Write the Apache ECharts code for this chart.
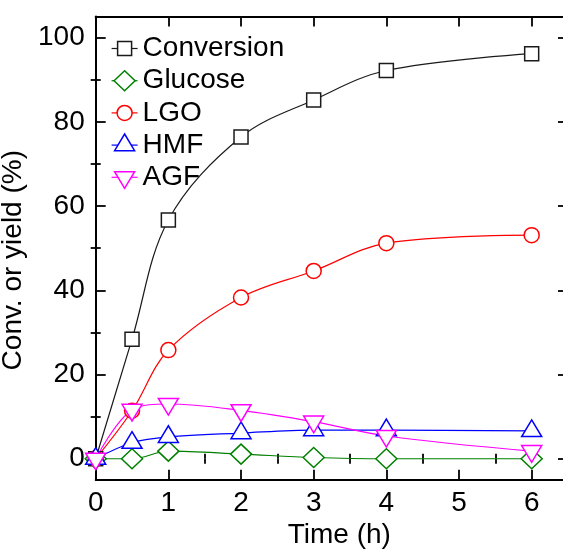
<!DOCTYPE html>
<html>
<head>
<meta charset="utf-8">
<script src="https://cdn.jsdelivr.net/npm/echarts@6/dist/echarts.min.js"></script>
<style>
html, body { margin: 0; padding: 0; overflow: hidden; background: #fff; }
#chart { width: 600px; height: 552px; }
</style>
</head>
<body>
<div id="chart"></div>
<script>
// ---- data ----
const timeH = [0, 0.5, 1, 2, 3, 4, 6];
const conversion = [0, 28.4, 56.7, 76.4, 85.2, 92.2, 96.2];
const glucose = [0, 0, 1.8, 1.1, 0.3, 0, 0];
const lgo = [0, 11.4, 25.8, 38.3, 44.6, 51.2, 53.1];
const hmf = [0, 3.8, 5.2, 6.1, 6.8, 6.8, 6.6];
const agf = [0, 11.6, 13.0, 11.5, 8.8, 5.4, 1.8];
const seriesNames = ['Conversion', 'Glucose', 'LGO', 'HMF', 'AGF'];
const xTicks = [0, 1, 2, 3, 4, 5, 6];
const xMinorTicks = [0.5, 1.5, 2.5, 3.5, 4.5, 5.5];
const yTicks = [0, 20, 40, 60, 80, 100];
const yMinorTicks = [10, 30, 50, 70, 90];

const FONT = 'Liberation Sans, Arial, sans-serif';
const colors = ['#1a1a1a', '#008000', '#ff0000', '#0000ff', '#ff00ff'];
// symbols drawn in a 24x24 box (corner moveTo points fix the box)
const symbols = [
  'path://M0 0M24 24M5 5L19 5L19 19L5 19Z',
  'path://M0 0M24 24M1.5 12L12 2L22.5 12L12 22Z',
  'path://M0 0M24 24M4.5 12A7.5 7.5 0 1 1 19.5 12A7.5 7.5 0 1 1 4.5 12Z',
  'path://M0 0M24 24M12 0.9L22 17.6L2 17.6Z',
  'path://M0 0M24 24M2 6.4L22 6.4L12 23.1Z'
];
const values = [conversion, glucose, lgo, hmf, agf];

function pairs(ys) { return timeH.map((x, i) => [x, ys[i]]); }

const X0 = 0, X1 = 6.5, Y0 = -5, Y1 = 105;
const lineCol = '#000';

function axisBase(extra) {
  return Object.assign({
    type: 'value',
    splitLine: { show: false },
    axisLine: { show: false },
    axisLabel: { show: false },
    axisTick: { show: false }
  }, extra);
}

const tickMajor = (vals) => ({ show: true, inside: true, length: 10, customValues: vals, lineStyle: { color: lineCol, width: 1.8 } });
const tickMinor = (vals) => ({ show: true, inside: true, length: 5, customValues: vals, lineStyle: { color: lineCol, width: 1.8 } });
const spine = { show: true, onZero: false, lineStyle: { color: lineCol, width: 2 } };

const option = {
  animation: false,
  backgroundColor: '#fff',
  grid: { left: 95.7, top: 16.6, right: 600 - 568, bottom: 72.2, containLabel: false, outerBoundsMode: 'none' },
  legend: {
    orient: 'vertical',
    left: 111, top: 34.5,
    padding: 0,
    itemWidth: 26, itemHeight: 30, itemGap: 4.2,
    textStyle: { fontSize: 28, color: '#000', fontFamily: FONT },
    itemStyle: { borderWidth: 1.5 },
    lineStyle: { width: 1.2 },
    data: seriesNames
  },
  xAxis: [
    axisBase({
      min: X0, max: X1, position: 'bottom',
      axisLine: spine,
      axisTick: tickMajor(xTicks),
      axisLabel: { show: true, customValues: xTicks, margin: 9, fontSize: 28, color: '#000', fontFamily: FONT },
      name: 'Time (h)', nameLocation: 'middle', nameGap: 36,
      nameTextStyle: { fontSize: 28, color: '#000', fontFamily: FONT, padding: [0, 0, 0, 15] }
    }),
    axisBase({ min: X0, max: X1, position: 'bottom', axisTick: tickMinor(xMinorTicks) }),
    axisBase({ min: X0, max: X1, position: 'top', axisLine: spine, axisTick: tickMajor(xTicks) }),
    axisBase({ min: X0, max: X1, position: 'top', axisTick: tickMinor(xMinorTicks) })
  ],
  yAxis: [
    axisBase({
      min: Y0, max: Y1, position: 'left',
      axisLine: spine,
      axisTick: tickMajor(yTicks),
      axisLabel: { show: true, customValues: yTicks, margin: 11, fontSize: 28, color: '#000', fontFamily: FONT },
      name: 'Conv. or yield (%)', nameLocation: 'middle', nameGap: 56,
      nameTextStyle: { fontSize: 28, color: '#000', fontFamily: FONT, padding: [0, 24, 0, 0] }
    }),
    axisBase({ min: Y0, max: Y1, position: 'left', axisTick: tickMinor(yMinorTicks) }),
    axisBase({ min: Y0, max: Y1, position: 'right', axisLine: spine, axisTick: tickMajor(yTicks) }),
    axisBase({ min: Y0, max: Y1, position: 'right', axisTick: tickMinor(yMinorTicks) })
  ],
  series: seriesNames.map((name, i) => ({
    name: name,
    type: 'line',
    xAxisIndex: 0, yAxisIndex: 0,
    data: pairs(values[i]),
    smooth: 0.35,
    symbol: symbols[i],
    symbolSize: 24,
    showAllSymbol: true,
    color: colors[i],
    itemStyle: { color: '#fff', borderColor: colors[i], borderWidth: 1.5 },
    lineStyle: { color: colors[i], width: 1.2 },
    emphasis: { disabled: true },
    clip: true
  }))
};

const chart = echarts.init(document.getElementById('chart'), null, { renderer: 'canvas' });
chart.setOption(option);
</script>
</body>
</html>
